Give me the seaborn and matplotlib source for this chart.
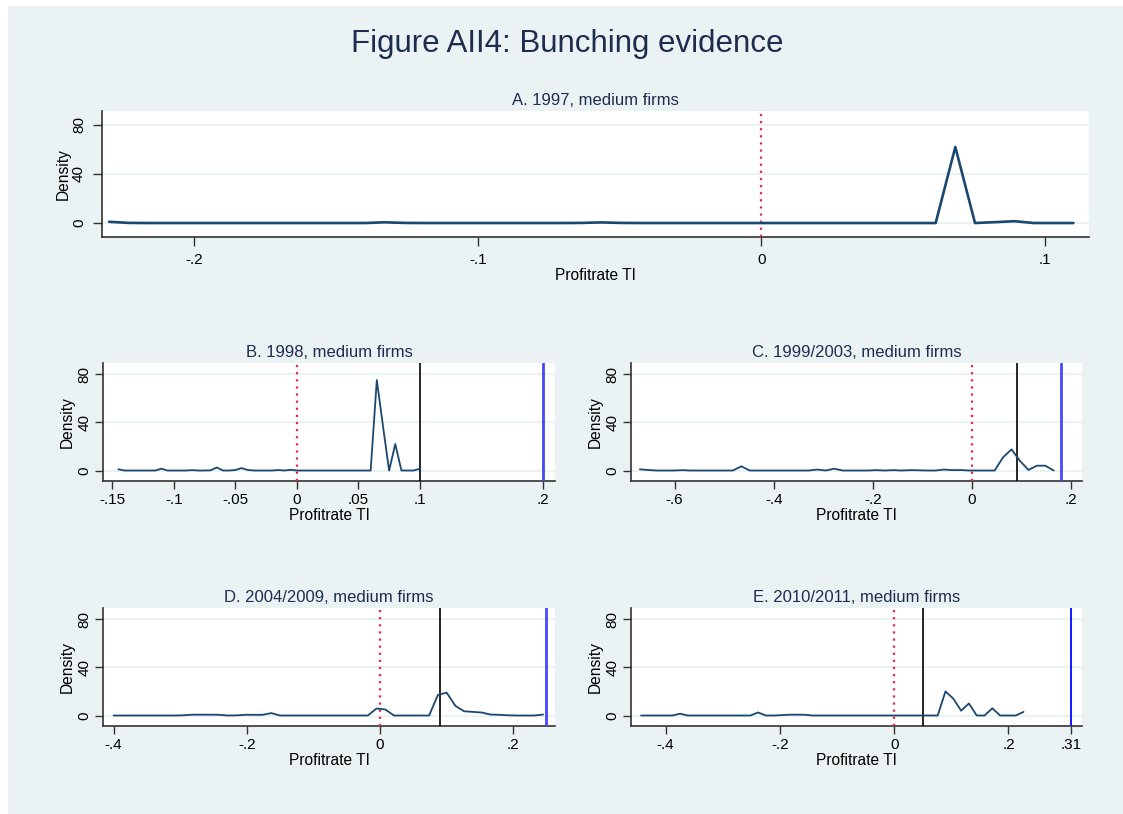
import numpy as np
import pandas as pd
import matplotlib
matplotlib.use("Agg")
import matplotlib.pyplot as plt
from matplotlib.patches import Rectangle
import seaborn as sns

sns.set_theme(style="white")
plt.rcParams["font.family"] = ["Liberation Sans", "DejaVu Sans"]

# ---- data: binned densities of the profit rate (50 bins per panel) ----
a_range = (-0.23, 0.11)
a_density = [1.0, 0.1, 0, 0, 0, 0, 0, 0, 0, 0,
             0, 0, 0, 0, 0.6, 0.1, 0, 0, 0, 0,
             0, 0, 0, 0, 0.1, 0.5, 0.1, 0, 0, 0,
             0, 0, 0, 0, 0, 0, 0, 0, 0, 0,
             0, 0, 0, 62, 0, 0.7, 1.5, 0, 0, 0]

b_range = (-0.145, 0.10)
b_density = [1.0, 0, 0, 0, 0, 0, 0, 1.5, 0, 0,
             0, 0, 0.3, 0, 0, 0.2, 2.5, 0, 0, 0.4,
             2.0, 0.5, 0, 0, 0, 0, 0.4, 0, 0.6, 0,
             0, 0, 0, 0, 0, 0, 0, 0, 0, 0,
             0, 0, 75, 37, 0, 22, 0, 0, 0, 1.5]

c_range = (-0.67, 0.165)
c_density = [1.0, 0.4, 0, 0, 0, 0.3, 0, 0, 0, 0,
             0, 0, 3.5, 0, 0, 0, 0, 0, 0, 0,
             0, 0.8, 0, 1.5, 0, 0, 0, 0, 0.3, 0,
             0.3, 0, 0.3, 0.2, 0, 0, 0.8, 0.3, 0.4, 0,
             0, 0, 0, 11, 17.5, 8, 0.5, 4, 4, 0]

d_range = (-0.40, 0.245)
d_density = [0, 0, 0, 0, 0, 0, 0, 0, 0.2, 0.7,
             0.7, 0.7, 0.6, 0, 0.1, 0.6, 0.6, 0.6, 2.0, 0,
             0, 0, 0, 0, 0, 0, 0, 0, 0, 0,
             5.8, 5.0, 0, 0, 0, 0, 0, 17, 19, 8,
             3.5, 3.0, 2.5, 0.8, 0.6, 0.2, 0, 0, 0, 0.8]

e_range = (-0.443, 0.2264)
e_density = [0, 0, 0, 0, 0, 1.5, 0, 0, 0, 0,
             0, 0, 0, 0, 0, 2.5, 0, 0, 0.3, 0.7,
             0.7, 0.6, 0, 0, 0, 0, 0, 0, 0, 0,
             0, 0, 0, 0, 0, 0, 0, 0, 0, 20,
             14, 4, 10, 0, 0, 6, 0, 0, 0, 3]

titles = ["A. 1997, medium firms", "B. 1998, medium firms",
          "C. 1999/2003, medium firms", "D. 2004/2009, medium firms",
          "E. 2010/2011, medium firms"]

# x ticks and their labels
a_ticks = [-0.2, -0.1, 0, 0.1]
a_labels = ["-.2", "-.1", "0", ".1"]
b_ticks = [-0.15, -0.1, -0.05, 0, 0.05, 0.1, 0.2]
b_labels = ["-.15", "-.1", "-.05", "0", ".05", ".1", ".2"]
c_ticks = [-0.6, -0.4, -0.2, 0, 0.2]
c_labels = ["-.6", "-.4", "-.2", "0", ".2"]
d_ticks = [-0.4, -0.2, 0, 0.2]
d_labels = ["-.4", "-.2", "0", ".2"]
e_ticks = [-0.4, -0.2, 0, 0.2, 0.31]
e_labels = ["-.4", "-.2", "0", ".2", ".31"]

y_ticks = [0, 40, 80]

# reference lines: zero, threshold, upper threshold
thresholds = [None, 0.10, 0.09, 0.09, 0.05]
upper = [None, 0.20, 0.18, 0.25, 0.31]

# ---- styling ----
BG = "#EAF2F3"
NAVY = "#1A476F"
TXT = "#1E2D4F"
RED = "#E4284F"

W, H = 1123, 814
fig = plt.figure(figsize=(W / 100, H / 100), dpi=100)
fig.patch.set_facecolor("white")
fig.patches.append(Rectangle((8 / W, 0), 1 - 8 / W, 1 - 6 / H,
                             transform=fig.transFigure, facecolor=BG,
                             edgecolor="none", zorder=-10))


def px_axes(l, t, r, b):
    return fig.add_axes([l / W, 1 - b / H, (r - l) / W, (b - t) / H])


boxes = [(102, 111, 1089, 237),
         (103, 363, 555, 481),
         (631, 363, 1082, 481),
         (103, 608, 555, 726),
         (631, 608, 1082, 726)]
xlims = [(-0.2325, 0.1155), (-0.1575, 0.2098), (-0.688, 0.222),
         (-0.416, 0.263), (-0.4606, 0.3287)]
ylims = [(-11.4, 91.4), (-8.7, 89.2), (-8.7, 89.2), (-8.7, 89.2), (-8.7, 89.2)]

ranges = [a_range, b_range, c_range, d_range, e_range]
densities = [a_density, b_density, c_density, d_density, e_density]
ticks = [a_ticks, b_ticks, c_ticks, d_ticks, e_ticks]
labels = [a_labels, b_labels, c_labels, d_labels, e_labels]
blue_styles = [None, ("#4646FF", 2.0), ("#4646FF", 2.0), ("#4646FF", 2.0),
               ("#1414FF", 1.4)]

for i in range(5):
    ax = px_axes(*boxes[i])
    ax.set_facecolor("white")
    lo, hi = ranges[i]
    dens = densities[i]
    df = pd.DataFrame({"x": np.linspace(lo, hi, len(dens)), "density": dens})

    for yv in y_ticks:
        ax.axhline(yv, color=BG, lw=1.6, zorder=0)

    ax.axvline(0, color=RED, lw=1.6, ls=(0, (1, 2.2)), zorder=3)
    if thresholds[i] is not None:
        ax.axvline(thresholds[i], color="black", lw=1.2, zorder=3)
        col, lw = blue_styles[i]
        ax.axvline(upper[i], color=col, lw=lw, zorder=3)

    sns.lineplot(data=df, x="x", y="density", ax=ax, color=NAVY,
                 lw=1.9 if i == 0 else 1.3, zorder=4)

    big = i == 0
    ax.set_xlim(*xlims[i])
    ax.set_ylim(*ylims[i])
    ax.set_xticks(ticks[i])
    ax.set_xticklabels(labels[i])
    ax.set_yticks(y_ticks)
    ax.set_yticklabels([str(v) for v in y_ticks], rotation=90, va="center")
    ax.tick_params(axis="both", direction="out",
                   length=6.5 if big else 5.5, width=1.0,
                   color="#333333", labelsize=11, labelcolor="black",
                   pad=5 if big else 3, left=True, bottom=True)
    ax.grid(False)
    for side in ["top", "right"]:
        ax.spines[side].set_visible(False)
    for side in ["left", "bottom"]:
        ax.spines[side].set_color("#333333")
        ax.spines[side].set_linewidth(1.2)
    ax.set_xlabel("Profitrate TI", fontsize=11.2, color="black", labelpad=1)
    ax.set_ylabel("Density", fontsize=11.2, color="black",
                  labelpad=1 if big else 2)
    ax.set_title(titles[i], fontsize=12, color=TXT, pad=4)

fig.text(0.505, 1 - 44 / H, "Figure AII4: Bunching evidence", ha="center",
         va="center", fontsize=22.5, color=TXT)

fig.savefig("out.png", dpi=100, facecolor=fig.get_facecolor())
